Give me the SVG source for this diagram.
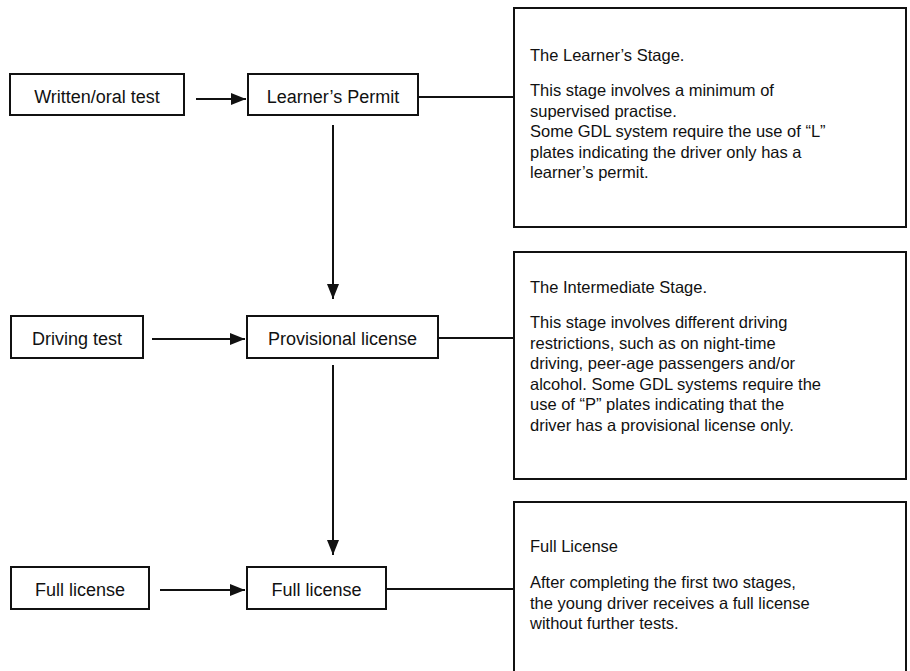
<svg xmlns="http://www.w3.org/2000/svg" width="910" height="671" viewBox="0 0 910 671">
<style>
.box{fill:#fff;stroke:#111;stroke-width:2}
.nt{font-family:"Liberation Sans",Arial,sans-serif;font-size:18px;fill:#111;text-anchor:middle}
.dt{font-family:"Liberation Sans",Arial,sans-serif;font-size:16.5px;fill:#111}
.ln{stroke:#111;stroke-width:2;fill:none}
</style>
<defs>
<marker id="ah" markerUnits="userSpaceOnUse" markerWidth="16" markerHeight="14" refX="15" refY="7" orient="auto">
<path d="M0,1 L15,7 L0,13 Z" fill="#111"/>
</marker>
</defs>
<rect width="910" height="671" fill="#fff"/>
<g id="connectors">
<line class="ln" x1="196" y1="99" x2="246" y2="99" marker-end="url(#ah)"/>
<line class="ln" x1="418" y1="97" x2="514" y2="97"/>
<line class="ln" x1="333" y1="125" x2="333" y2="299" marker-end="url(#ah)"/>
<line class="ln" x1="152" y1="339" x2="245" y2="339" marker-end="url(#ah)"/>
<line class="ln" x1="438" y1="338" x2="514" y2="338"/>
<line class="ln" x1="333" y1="365" x2="333" y2="555" marker-end="url(#ah)"/>
<line class="ln" x1="160" y1="590" x2="245" y2="590" marker-end="url(#ah)"/>
<line class="ln" x1="386" y1="589" x2="514" y2="589"/>
</g>
<g id="written-test">
<rect class="box" x="10" y="74" width="174" height="41"/>
<text class="nt" x="97" y="103">Written/oral test</text>
</g>
<g id="learners-permit">
<rect class="box" x="248" y="74" width="170" height="41"/>
<text class="nt" x="333" y="103">Learner’s Permit</text>
</g>
<g id="learner-stage">
<rect class="box" x="514" y="8" width="392" height="219"/>
<text class="dt" x="530" y="61">The Learner’s Stage.</text>
<text class="dt" x="530" y="96">This stage involves a minimum of</text>
<text class="dt" x="530" y="116.5">supervised practise.</text>
<text class="dt" x="530" y="137">Some GDL system require the use of “L”</text>
<text class="dt" x="530" y="157.5">plates indicating the driver only has a</text>
<text class="dt" x="530" y="178">learner’s permit.</text>
</g>
<g id="driving-test">
<rect class="box" x="11" y="316" width="132" height="42"/>
<text class="nt" x="77" y="345">Driving test</text>
</g>
<g id="provisional-license">
<rect class="box" x="247" y="316" width="191" height="42"/>
<text class="nt" x="342.5" y="345">Provisional license</text>
</g>
<g id="intermediate-stage">
<rect class="box" x="514" y="252" width="392" height="227"/>
<text class="dt" x="530" y="293">The Intermediate Stage.</text>
<text class="dt" x="530" y="328">This stage involves different driving</text>
<text class="dt" x="530" y="348.5">restrictions, such as on night-time</text>
<text class="dt" x="530" y="369">driving, peer-age passengers and/or</text>
<text class="dt" x="530" y="389.5">alcohol. Some GDL systems require the</text>
<text class="dt" x="530" y="410">use of “P” plates indicating that the</text>
<text class="dt" x="530" y="430.5">driver has a provisional license only.</text>
</g>
<g id="full-license-left">
<rect class="box" x="11" y="567" width="138" height="42"/>
<text class="nt" x="80" y="596">Full license</text>
</g>
<g id="full-license-right">
<rect class="box" x="247" y="567" width="139" height="42"/>
<text class="nt" x="316.5" y="596">Full license</text>
</g>
<g id="full-stage">
<rect class="box" x="514" y="502" width="392" height="190"/>
<text class="dt" x="530" y="552">Full License</text>
<text class="dt" x="530" y="588">After completing the first two stages,</text>
<text class="dt" x="530" y="608.5">the young driver receives a full license</text>
<text class="dt" x="530" y="629">without further tests.</text>
</g>
</svg>
